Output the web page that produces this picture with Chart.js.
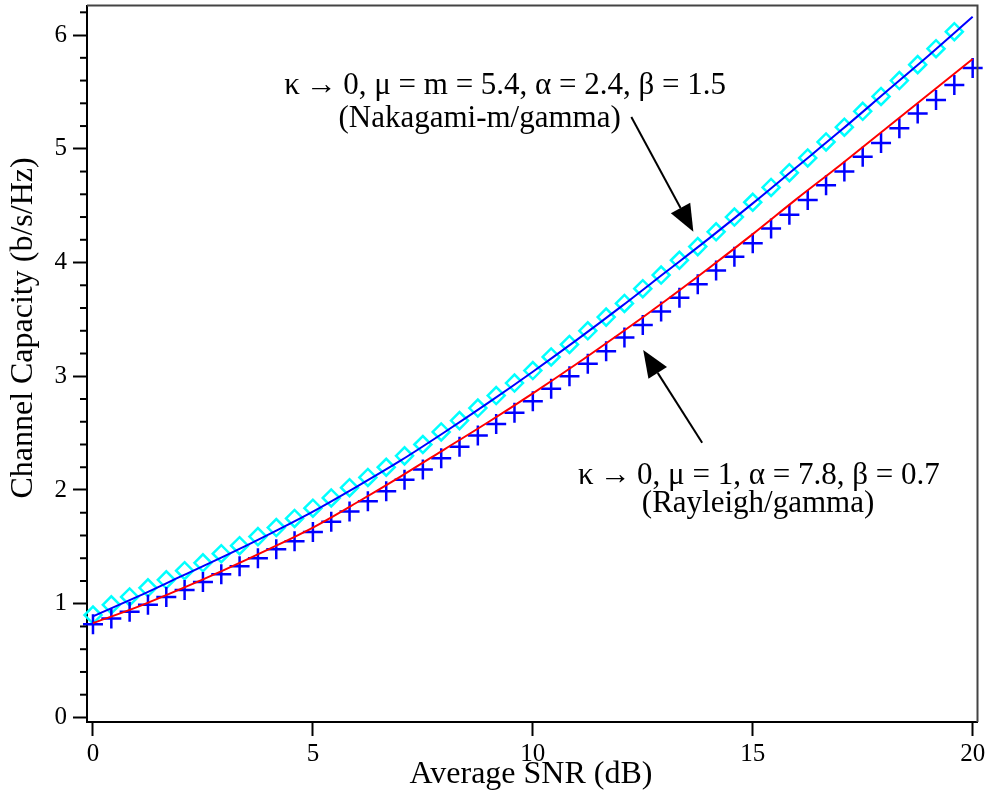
<!DOCTYPE html>
<html>
<head>
<meta charset="utf-8">
<script src="https://cdn.jsdelivr.net/npm/chart.js@4.4.1/dist/chart.umd.min.js"></script>
<style>
  html, body { margin: 0; padding: 0; background: #fff; overflow: hidden; }
  #wrap { width: 990px; height: 800px; overflow: hidden; position: relative; }
  #capacity-chart { position: absolute; left: 0; top: -7px; }
</style>
</head>
<body>
<div id="wrap"><canvas id="capacity-chart" width="990" height="807"></canvas></div>
<script>
// analytical curves, read at every dB
var snrLine = [0, 1, 2, 3, 4, 5, 6, 7, 8, 9, 10, 11, 12, 13, 14, 15, 16, 17, 18, 19, 20];
var nakagamiLine = [0.89, 1.06, 1.24, 1.42, 1.61, 1.81, 2.03, 2.26, 2.51, 2.77, 3.04, 3.32, 3.61, 3.91, 4.21, 4.52, 4.84, 5.16, 5.49, 5.82, 6.16];
var rayleighLine = [0.83, 0.97, 1.13, 1.30, 1.48, 1.67, 1.89, 2.12, 2.36, 2.60, 2.85, 3.11, 3.38, 3.66, 3.95, 4.25, 4.56, 4.86, 5.17, 5.48, 5.79];

// simulation markers
var snrSim = [0, 0.417, 0.833, 1.25, 1.667, 2.083, 2.5, 2.917, 3.333, 3.75,
  4.167, 4.583, 5, 5.417, 5.833, 6.25, 6.667, 7.083, 7.5, 7.917,
  8.333, 8.75, 9.167, 9.583, 10, 10.417, 10.833, 11.25, 11.667, 12.083,
  12.5, 12.917, 13.333, 13.75, 14.167, 14.583, 15, 15.417, 15.833, 16.25,
  16.667, 17.083, 17.5, 17.917, 18.333, 18.75, 19.167, 19.583, 20];
var nakagamiSim = [0.90, 0.99, 1.06, 1.14, 1.21, 1.29, 1.36, 1.44, 1.51, 1.59,
  1.67, 1.75, 1.84, 1.93, 2.02, 2.11, 2.20, 2.30, 2.40, 2.51,
  2.61, 2.72, 2.83, 2.94, 3.05, 3.17, 3.28, 3.40, 3.52, 3.64,
  3.77, 3.89, 4.02, 4.14, 4.27, 4.40, 4.53, 4.66, 4.79, 4.92,
  5.06, 5.19, 5.33, 5.46, 5.60, 5.74, 5.88, 6.03];
var rayleighSim = [0.82, 0.87, 0.93, 0.99, 1.06, 1.12, 1.19, 1.26, 1.33, 1.40,
  1.48, 1.55, 1.63, 1.72, 1.81, 1.90, 1.99, 2.09, 2.18, 2.28,
  2.38, 2.48, 2.58, 2.68, 2.78, 2.89, 3.00, 3.11, 3.22, 3.34,
  3.45, 3.57, 3.69, 3.81, 3.93, 4.05, 4.17, 4.30, 4.42, 4.55,
  4.68, 4.80, 4.93, 5.05, 5.18, 5.31, 5.43, 5.56, 5.71];

var xTickVals = [0, 5, 10, 15, 20];
var yTickVals = [0, 1, 2, 3, 4, 5, 6];

var serif = '"Liberation Serif", "Times New Roman", serif';
var shiftY = 7; // canvas sits 7px above the page top

function pts(xs, ys) {
  return ys.map(function (y, i) { return { x: xs[i], y: y }; });
}

function noPadding() {
  return { left: 0, top: 0, right: 0, bottom: 0 };
}

function arrow(ctx, x0, y0, x1, y1) {
  var ang = Math.atan2(y1 - y0, x1 - x0);
  var len = 27, half = 11;
  var bx = x1 - len * Math.cos(ang), by = y1 - len * Math.sin(ang);
  ctx.beginPath();
  ctx.moveTo(x0, y0);
  ctx.lineTo(bx, by);
  ctx.stroke();
  ctx.beginPath();
  ctx.moveTo(x1, y1);
  ctx.lineTo(bx + half * Math.sin(ang), by - half * Math.cos(ang));
  ctx.lineTo(bx - half * Math.sin(ang), by + half * Math.cos(ang));
  ctx.closePath();
  ctx.fill();
}

var decor = {
  id: 'decor',
  afterDraw(chart) {
    var ctx = chart.ctx, xs = chart.scales.x, ys = chart.scales.y, a = chart.chartArea;
    ctx.save();

    // minor y ticks
    ctx.strokeStyle = '#000';
    ctx.lineWidth = 2;
    for (var k = 1; k <= 31; k++) {
      if (k % 5 === 0) continue;
      var py = ys.getPixelForValue(k / 5);
      ctx.beginPath();
      ctx.moveTo(a.left - 7, py);
      ctx.lineTo(a.left, py);
      ctx.stroke();
    }

    // box top / right
    ctx.strokeStyle = '#444';
    ctx.beginPath();
    ctx.moveTo(a.left, a.top);
    ctx.lineTo(a.right, a.top);
    ctx.lineTo(a.right, a.bottom);
    ctx.stroke();

    // axis titles
    ctx.fillStyle = '#000';
    ctx.font = '32px ' + serif;
    ctx.textAlign = 'center';
    ctx.textBaseline = 'middle';
    ctx.fillText('Average SNR (dB)', 531, 775 + shiftY);
    ctx.save();
    ctx.translate(24, 328 + shiftY);
    ctx.rotate(-Math.PI / 2);
    ctx.fillText('Channel Capacity (b/s/Hz)', 0, 0);
    ctx.restore();

    // annotations
    ctx.font = '31px ' + serif;
    ctx.fillText('\u03BA\u2009\u2192\u20090, \u03BC = m = 5.4, \u03B1 = 2.4, \u03B2 = 1.5', xs.getPixelForValue(9.37), ys.getPixelForValue(5.55));
    ctx.fillText('(Nakagami-m/gamma)', xs.getPixelForValue(8.79), ys.getPixelForValue(5.26));
    ctx.fillText('\u03BA\u2009\u2192\u20090, \u03BC = 1, \u03B1 = 7.8, \u03B2 = 0.7', xs.getPixelForValue(15.14), ys.getPixelForValue(2.12));
    ctx.fillText('(Rayleigh/gamma)', xs.getPixelForValue(15.12), ys.getPixelForValue(1.88));

    ctx.strokeStyle = '#000';
    ctx.fillStyle = '#000';
    ctx.lineWidth = 2;
    arrow(ctx, xs.getPixelForValue(12.24), ys.getPixelForValue(5.28), xs.getPixelForValue(13.65), ys.getPixelForValue(4.27));
    arrow(ctx, xs.getPixelForValue(13.85), ys.getPixelForValue(2.415), xs.getPixelForValue(12.51), ys.getPixelForValue(3.23));

    ctx.restore();
  }
};

new Chart(document.getElementById('capacity-chart'), {
  type: 'scatter',
  data: {
    datasets: [
      {
        label: 'Nakagami-m/gamma (analytical)',
        data: pts(snrLine, nakagamiLine),
        showLine: true,
        borderColor: '#0000ff',
        borderWidth: 2,
        pointRadius: 0,
        cubicInterpolationMode: 'monotone'
      },
      {
        label: 'Rayleigh/gamma (analytical)',
        data: pts(snrLine, rayleighLine),
        showLine: true,
        borderColor: '#ff0000',
        borderWidth: 2,
        pointRadius: 0,
        cubicInterpolationMode: 'monotone'
      },
      {
        label: 'Rayleigh/gamma (simulation)',
        data: pts(snrSim, rayleighSim),
        showLine: false,
        pointStyle: 'cross',
        pointRadius: 10,
        pointBorderWidth: 2.5,
        borderColor: '#0000ff',
        backgroundColor: '#0000ff',
        clip: false
      },
      {
        label: 'Nakagami-m/gamma (simulation)',
        data: pts(snrSim, nakagamiSim),
        showLine: false,
        pointStyle: 'rectRot',
        pointRadius: 8.5,
        pointBorderWidth: 2.5,
        borderColor: '#00ffff',
        backgroundColor: 'rgba(0,0,0,0)',
        clip: false
      }
    ]
  },
  options: {
    responsive: false,
    animation: false,
    devicePixelRatio: 1,
    layout: { padding: { top: 5, right: 10, left: 0, bottom: 0 } },
    plugins: {
      legend: { display: false },
      tooltip: { enabled: false }
    },
    scales: {
      x: {
        type: 'linear',
        min: -0.136,
        max: 20.11,
        border: { display: true, color: '#000', width: 2 },
        grid: { drawOnChartArea: false, drawTicks: true, tickLength: 14, tickColor: '#000', tickWidth: 2 },
        ticks: { color: '#000', font: { family: serif, size: 25 }, padding: 3, maxRotation: 0 },
        afterBuildTicks: function (s) { s.ticks = xTickVals.map(function (v) { return { value: v }; }); },
        afterFit: function (s) { s.height = 78; s.paddingLeft = 0; s.paddingRight = 0; s.getPadding = noPadding; }
      },
      y: {
        type: 'linear',
        min: -0.04,
        max: 6.26,
        border: { display: true, color: '#000', width: 2 },
        grid: { drawOnChartArea: false, drawTicks: true, tickLength: 14, tickColor: '#000', tickWidth: 2 },
        ticks: { color: '#000', font: { family: serif, size: 25 }, padding: 6 },
        afterBuildTicks: function (s) { s.ticks = yTickVals.map(function (v) { return { value: v }; }); },
        afterFit: function (s) { s.width = 87; s.paddingTop = 0; s.paddingBottom = 0; s.getPadding = noPadding; }
      }
    }
  },
  plugins: [decor]
});
</script>
</body>
</html>
